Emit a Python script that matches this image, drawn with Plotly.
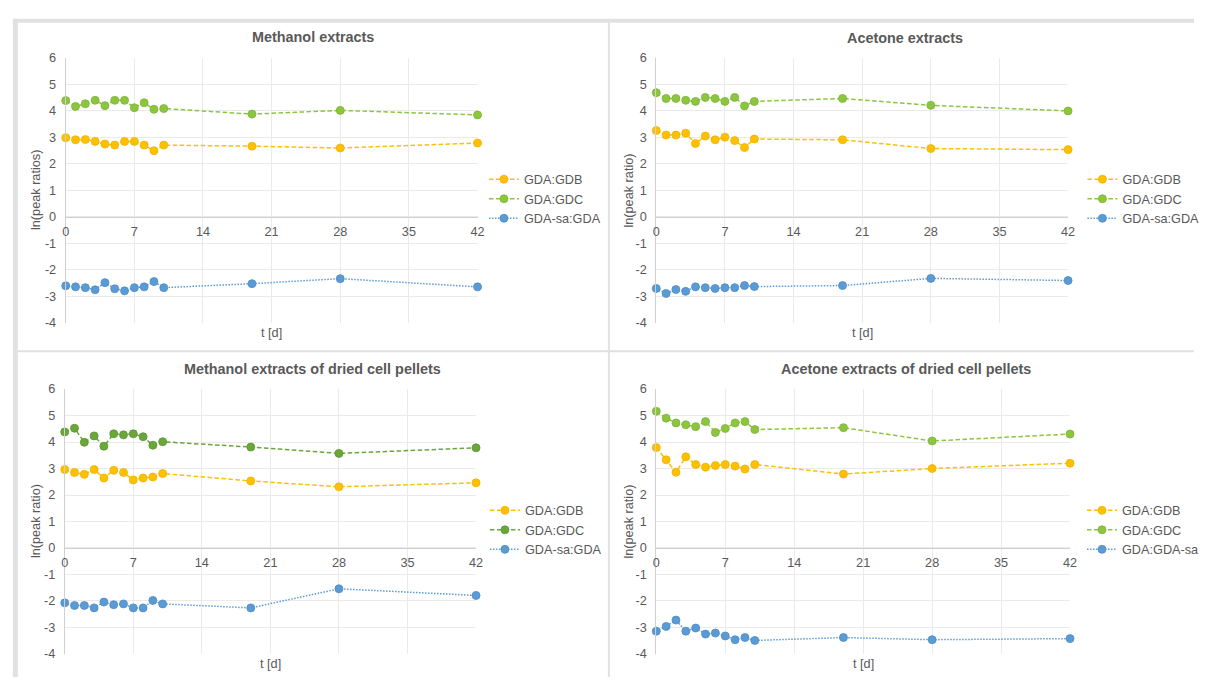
import plotly.graph_objects as go

# Sampling days
days = [0, 1, 2, 3, 4, 5, 6, 7, 8, 9, 10, 19, 28, 42]

# Methanol extracts
meoh_gdb = [2.99, 2.91, 2.92, 2.85, 2.75, 2.71, 2.85, 2.85, 2.71, 2.50, 2.71, 2.67, 2.60, 2.79]
meoh_gdc = [4.39, 4.17, 4.27, 4.40, 4.20, 4.40, 4.40, 4.12, 4.31, 4.06, 4.09, 3.88, 4.02, 3.85]
meoh_sa = [-2.60, -2.64, -2.67, -2.75, -2.48, -2.71, -2.79, -2.67, -2.64, -2.44, -2.67, -2.52, -2.33, -2.64]

# Acetone extracts
acet_gdb = [3.26, 3.09, 3.09, 3.16, 2.77, 3.05, 2.91, 3.01, 2.88, 2.62, 2.94, 2.91, 2.58, 2.54]
acet_gdc = [4.69, 4.47, 4.47, 4.40, 4.36, 4.51, 4.47, 4.36, 4.51, 4.19, 4.36, 4.47, 4.21, 4.00]
acet_sa = [-2.70, -2.89, -2.74, -2.81, -2.64, -2.67, -2.70, -2.67, -2.67, -2.59, -2.63, -2.59, -2.32, -2.40]

# Methanol extracts of dried cell pellets
meoh_dry_gdb = [2.96, 2.85, 2.78, 2.96, 2.64, 2.93, 2.85, 2.57, 2.64, 2.68, 2.81, 2.53, 2.31, 2.46]
meoh_dry_gdc = [4.38, 4.52, 3.99, 4.23, 3.84, 4.31, 4.27, 4.31, 4.20, 3.88, 4.01, 3.81, 3.57, 3.78]
meoh_dry_sa = [-2.07, -2.17, -2.17, -2.26, -2.04, -2.14, -2.11, -2.26, -2.26, -1.98, -2.11, -2.26, -1.54, -1.79]

# Acetone extracts of dried cell pellets
acet_dry_gdb = [3.79, 3.33, 2.86, 3.44, 3.15, 3.05, 3.11, 3.15, 3.09, 2.98, 3.15, 2.79, 3.00, 3.20]
acet_dry_gdc = [5.16, 4.90, 4.72, 4.65, 4.58, 4.77, 4.36, 4.51, 4.72, 4.77, 4.47, 4.54, 4.04, 4.30]
acet_dry_sa = [-3.14, -2.96, -2.72, -3.14, -3.02, -3.25, -3.21, -3.32, -3.46, -3.38, -3.49, -3.38, -3.46, -3.42]

x_ticks = [0, 7, 14, 21, 28, 35, 42]
y_ticks = [6, 5, 4, 3, 2, 1, 0, -1, -2, -3, -4]

W, H = 1205, 684
ORANGE = "#FFC000"
GREEN = "#8CC63F"
GREEN_DARK = "#6AA63A"
BLUE = "#5B9BD5"
TEXT = "#595959"
GRID = "#EAEAEA"
AXIS = "#D0D0D0"
FRAME = "#E1E1E1"
FONT = "Liberation Sans, Arial, sans-serif"
FS = 12.7


def fx(px):
    return px / W


def fy(py):
    return 1 - py / H


panels = [
    dict(title="Methanol extracts", ytitle="ln(peak ratios)",
         series=[("GDA:GDB", meoh_gdb, ORANGE), ("GDA:GDC", meoh_gdc, GREEN), ("GDA-sa:GDA", meoh_sa, BLUE)],
         px=(62.5, 479.5), py=(52, 322.5), title_xy=(313, 31), ytitle_x=33, xt_y=333, leg=(486, 196)),
    dict(title="Acetone extracts", ytitle="ln(peak ratio)",
         series=[("GDA:GDB", acet_gdb, ORANGE), ("GDA:GDC", acet_gdc, GREEN), ("GDA-sa:GDA", acet_sa, BLUE)],
         px=(660.5, 1077.5), py=(52, 322.5), title_xy=(912, 32), ytitle_x=633, xt_y=333, leg=(1092, 196)),
    dict(title="Methanol extracts of dried cell pellets", ytitle="ln(peak ratio)",
         series=[("GDA:GDB", meoh_dry_gdb, ORANGE), ("GDA:GDC", meoh_dry_gdc, GREEN_DARK), ("GDA-sa:GDA", meoh_dry_sa, BLUE)],
         px=(61.5, 478), py=(390, 660.5), title_xy=(312.5, 370), ytitle_x=33, xt_y=671, leg=(487, 534)),
    dict(title="Acetone extracts of dried cell pellets", ytitle="ln(peak ratio)",
         series=[("GDA:GDB", acet_dry_gdb, ORANGE), ("GDA:GDC", acet_dry_gdc, GREEN), ("GDA:GDA-sa", acet_dry_sa, BLUE)],
         px=(660.5, 1079.5), py=(390, 660.5), title_xy=(913, 370), ytitle_x=633, xt_y=671, leg=(1092, 534)),
]

dash_styles = {ORANGE: "4.5px,2.5px", GREEN: "4.5px,2.5px", GREEN_DARK: "4.5px,2.5px", BLUE: "1.5px,1.5px"}
outline = {ORANGE: "#EDB200", GREEN: "#7DB436", GREEN_DARK: "#5E9532", BLUE: "#4F8CC4"}

fig = go.Figure()
layout = dict(
    width=W, height=H, margin=dict(l=0, r=0, t=0, b=0),
    paper_bgcolor="white", plot_bgcolor="white",
    font=dict(family=FONT, size=FS, color=TEXT),
    showlegend=True,
)
annotations = []

for i, p in enumerate(panels, start=1):
    sfx = "" if i == 1 else str(i)
    xname, yname = "x" + sfx, "y" + sfx
    legname = "legend" + sfx
    for name, vals, col in p["series"]:
        fig.add_trace(go.Scatter(
            x=days, y=vals, name=name, mode="lines+markers",
            xaxis=xname, yaxis=yname, legend=legname, cliponaxis=False,
            line=dict(color=col, width=1.5, dash=dash_styles[col]),
            marker=dict(size=8, color=col, line=dict(color=outline[col], width=0.8)),
        ))
    x0, x1 = p["px"]
    y_top, y_bot = p["py"]
    # x axis crosses the value axis at zero
    zero_py = y_top + (6 - 0) / 10 * (y_bot - y_top)
    layout["xaxis" + sfx] = dict(
        domain=[fx(x0), fx(x1)], range=[0, 42], anchor="free", position=fy(zero_py),
        tickvals=x_ticks, ticktext=[str(v) for v in x_ticks],
        showgrid=True, gridcolor=GRID, gridwidth=1,
        showline=True, linecolor=AXIS, linewidth=1, zeroline=False,
        ticks="outside", ticklen=3, tickcolor="rgba(0,0,0,0)",
        tickfont=dict(size=FS, color=TEXT), fixedrange=True,
    )
    layout["yaxis" + sfx] = dict(
        domain=[fy(y_bot), fy(y_top)], range=[-4, 6], anchor=xname,
        tickvals=y_ticks, ticktext=[str(v) for v in y_ticks],
        showgrid=True, gridcolor=GRID, gridwidth=1,
        showline=True, linecolor=AXIS, linewidth=1, zeroline=False,
        ticks="outside", ticklen=6, tickcolor="rgba(0,0,0,0)",
        tickfont=dict(size=FS, color=TEXT), fixedrange=True,
    )
    layout[legname] = dict(
        x=fx(p["leg"][0]), y=fy(p["leg"][1]), xanchor="left", yanchor="middle",
        bgcolor="rgba(0,0,0,0)", font=dict(size=FS, color=TEXT), itemwidth=30,
        tracegroupgap=0,
    )
    tx, ty = p["title_xy"]
    annotations.append(dict(
        text="<b>" + p["title"] + "</b>", x=fx(tx), y=fy(ty), xref="paper", yref="paper",
        showarrow=False, xanchor="center", yanchor="middle",
        font=dict(size=14.4, color=TEXT, family=FONT),
    ))
    annotations.append(dict(
        text=p["ytitle"], x=fx(p["ytitle_x"]), y=fy((y_top + y_bot) / 2), xref="paper", yref="paper",
        showarrow=False, textangle=-90, xanchor="center", yanchor="middle",
        font=dict(size=FS, color=TEXT, family=FONT),
    ))
    annotations.append(dict(
        text="t [d]", x=fx((x0 + x1) / 2), y=fy(p["xt_y"]), xref="paper", yref="paper",
        showarrow=False, xanchor="center", yanchor="middle",
        font=dict(size=FS, color=TEXT, family=FONT),
    ))

# Sheet frame and panel separators
shapes = [
    dict(type="rect", xref="paper", yref="paper", x0=fx(9), x1=1, y0=fy(16), y1=fy(12),
         fillcolor=FRAME, line_width=0, layer="below"),
    dict(type="rect", xref="paper", yref="paper", x0=fx(9), x1=fx(14), y0=0, y1=fy(12),
         fillcolor=FRAME, line_width=0, layer="below"),
    dict(type="rect", xref="paper", yref="paper", x0=fx(611.5), x1=fx(613.5), y0=0, y1=fy(16),
         fillcolor=FRAME, line_width=0, layer="below"),
    dict(type="rect", xref="paper", yref="paper", x0=fx(14), x1=1, y0=fy(352.5), y1=fy(350.5),
         fillcolor=FRAME, line_width=0, layer="below"),
]

layout["annotations"] = annotations
layout["shapes"] = shapes
fig.update_layout(**layout)
fig.write_html("out.html")
